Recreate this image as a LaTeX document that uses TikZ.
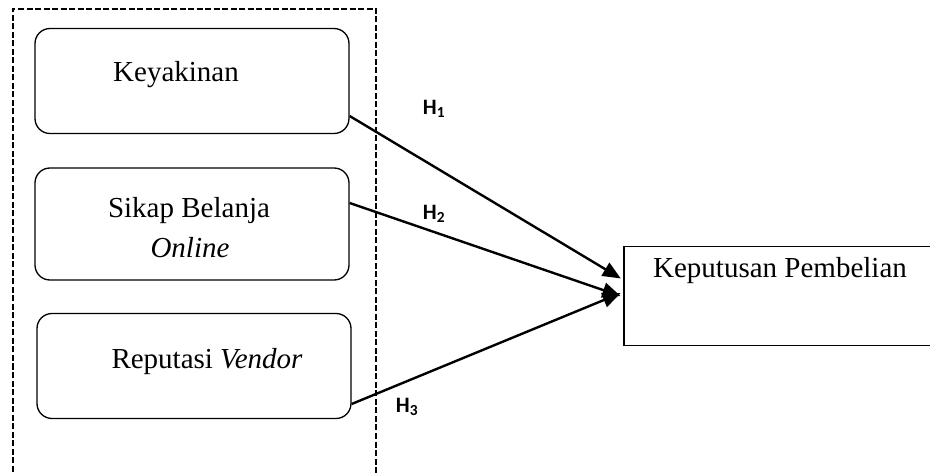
\documentclass[tikz,border=0pt]{standalone}
\usepackage{fontspec}
\setmainfont{Liberation Serif}
\newfontfamily\hfont{Carlito}
\usetikzlibrary{arrows.meta}

\begin{document}
\begin{tikzpicture}[x = 1pt, y = -1pt, line width = 1.3pt,
    var/.style = {draw, rounded corners = 15pt, minimum width = 314pt, minimum height = 105pt},
    txt/.style = {anchor = base, font = \fontsize{29}{40}\selectfont},
    hyp/.style = {font = \hfont\bfseries\fontsize{22}{26}\selectfont},
    arr/.style = {-{Triangle[length = 18pt, width = 15pt]}, line width = 2.4pt, shorten >= 3pt}]
\useasboundingbox (0,0) rectangle (930,473);
\clip (0,0) rectangle (930,473);
% dashed frame round the three variables
\draw [line width = 2.4pt, dash pattern = on 6pt off 2.5pt] (13,480) -- (13,9) -- (376,9) -- (376,480);
\draw (192,81) node[var](k){}
    (192,224) node[var, minimum height = 112pt](s){}
    (194,366) node[var](r){}
    (790,296) node[draw, minimum width = 332pt, minimum height = 99pt](kp){};
\node[txt] (tk) at (176,82) {Keyakinan};
\node[txt] (ts) at (189,218) {Sikap Belanja};
\node[txt] (to) at (190,258) {\itshape Online};
\node[txt] (tr) at (207,368) {Reputasi \textit{Vendor}};
\node[txt] (tkp) at (780,278) {Keputusan Pembelian};
\draw [arr] (k.east |- 0,116) -- (kp.west |- 0,280);
\draw [arr] (s.east |- 0,203) -- (kp.west |- 0,297);
\draw [arr] (r.east |- 0,404) -- (kp.west |- 0,292);
\node[hyp] (h1) at (434,109) {H\textsubscript{1}};
\node[hyp] (h2) at (434,214) {H\textsubscript{2}};
\node[hyp] (h3) at (407,407) {H\textsubscript{3}};
\end{tikzpicture}
\end{document}
